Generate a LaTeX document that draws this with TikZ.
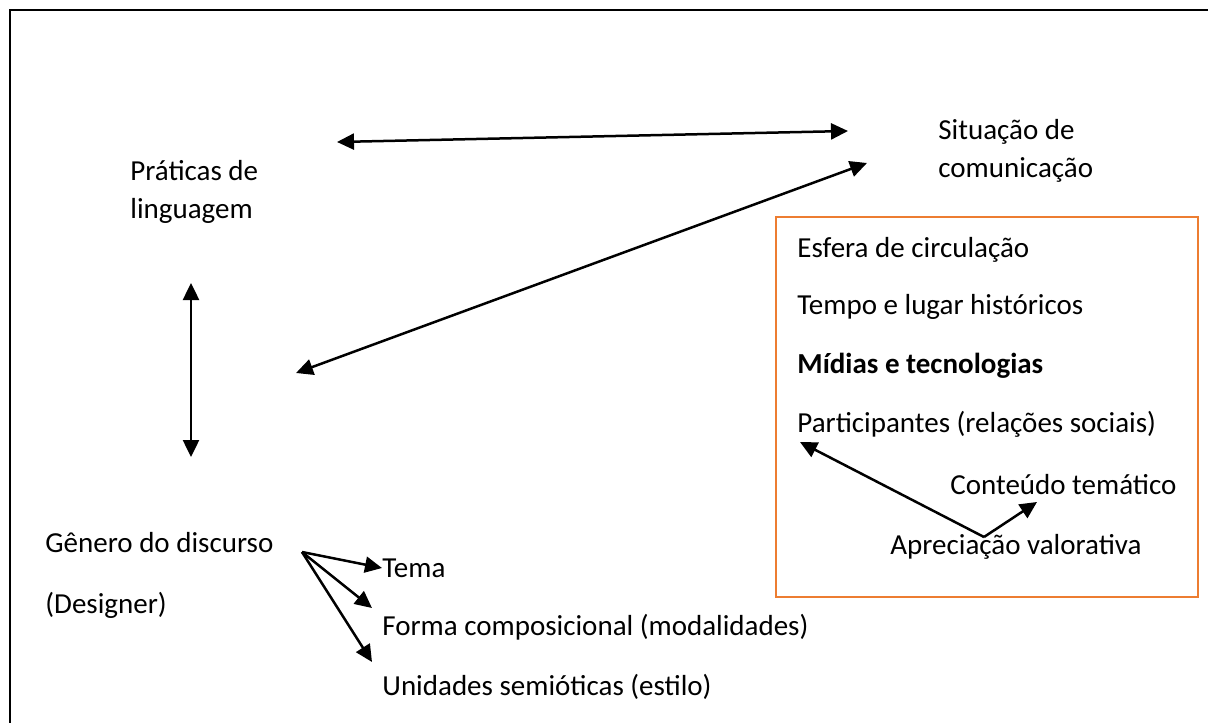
\documentclass[tikz,border=0pt]{standalone}
\usepackage{fontspec}
\setmainfont{Carlito}
\usetikzlibrary{arrows.meta}
\definecolor{boxorange}{HTML}{ED7D31}

\tikzstyle{txt}=[anchor=west,inner sep=0pt,align=left,font=\fontsize{14.5}{19}\selectfont]
\tikzstyle{link}=[draw,line width=1.25pt]

\begin{document}
\begin{tikzpicture}[x=0.5pt, y=-0.5pt, >={Triangle[length=8.5pt,width=8pt]}]
		\useasboundingbox (0,0) rectangle (1208,722);
		\draw [line width=1pt] (9.5,760) |- (1240,10);
		\draw [boxorange, line width=0.6pt] (776,217) rectangle (1198,597);

		\node [txt] (praticas)  at (130,191.5) {Práticas de\\linguagem};
		\node [txt] (situacao)  at (938,151)   {Situação de\\comunicação};
		\node [txt] (esfera)    at (797,250)   {Esfera de circulação};
		\node [txt] (tempo)     at (797,307)   {Tempo e lugar históricos};
		\node [txt] (midias)    at (797,366)   {\bfseries Mídias e tecnologias};
		\node [txt] (particip)  at (797,424)   {Participantes (relações sociais)};
		\node [txt] (conteudo)  at (950,485)   {Conteúdo temático};
		\node [txt] (apreciacao) at (890,547)  {Apreciação valorativa};
		\node [txt] (genero)    at (45,543)    {Gênero do discurso};
		\node [txt] (designer)  at (45,605)    {(Designer)};
		\node [txt] (tema)      at (382,568)   {Tema};
		\node [txt] (forma)     at (382,627)   {Forma composicional (modalidades)};
		\node [txt] (unidades)  at (382,687)   {Unidades semióticas (estilo)};

		\coordinate (top-l)   at (337,142);
		\coordinate (top-r)   at (848,131);
		\coordinate (diag-r)  at (867,163);
		\coordinate (diag-l)  at (296,373);
		\coordinate (vert-t)  at (191,283);
		\coordinate (vert-b)  at (191,457);
		\coordinate (fan)     at (302,552);
		\coordinate (fan-f)   at (372,608);
		\coordinate (fan-u)   at (372,662);
		\coordinate (aprec)   at (984,537);
		\coordinate (part-t)  at (800,442);
		\coordinate (cont-t)  at (1037,502);

		\draw [link, <->] (top-l)  -- (top-r);
		\draw [link, <->] (diag-l) -- (diag-r);
		\draw [link, <->] (vert-t) -- (vert-b);
		\draw [link, ->]  (fan)    -- (tema.west);
		\draw [link, ->]  (fan)    -- (fan-f);
		\draw [link, ->]  (fan)    -- (fan-u);
		\draw [link, ->]  (aprec)  -- (part-t);
		\draw [link, ->]  (aprec)  -- (cont-t);
	\end{tikzpicture}
\end{document}
